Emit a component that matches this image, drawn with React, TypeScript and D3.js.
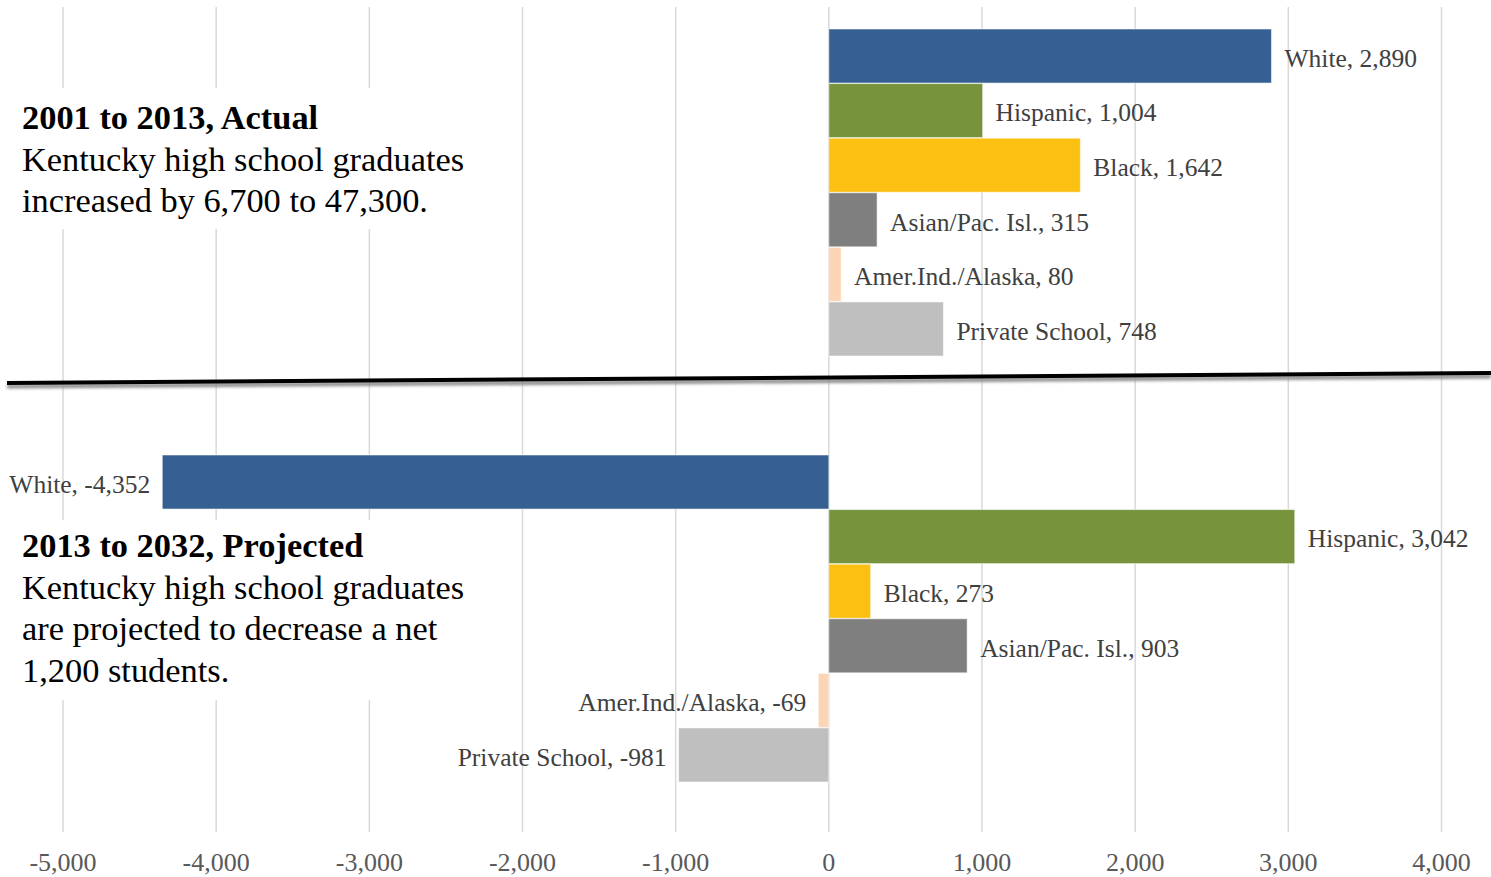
import React from "react";
import * as d3 from "d3";

// Change in Kentucky high school graduates by race/ethnicity
const categories = ["White", "Hispanic", "Black", "Asian/Pac. Isl.", "Amer.Ind./Alaska", "Private School"];
const actual2001to2013 = [2890, 1004, 1642, 315, 80, 748];
const projected2013to2032 = [-4352, 3042, 273, 903, -69, -981];
const barColors = ["#366092", "#77933C", "#FBC012", "#7F7F7F", "#FBD5B5", "#BFBFBF"];
const tickValues = [-5000, -4000, -3000, -2000, -1000, 0, 1000, 2000, 3000, 4000];

const topNote = {
  title: "2001 to 2013, Actual",
  lines: ["Kentucky high school graduates", "increased by 6,700 to 47,300."],
};
const bottomNote = {
  title: "2013 to 2032, Projected",
  lines: ["Kentucky high school graduates", "are projected to decrease a net", "1,200 students."],
};

const W = 1491;
const H = 877;
const FONT = "'Liberation Serif', 'Times New Roman', serif";

const locale = d3.formatLocale({ decimal: ".", thousands: ",", grouping: [3], currency: ["$", ""], minus: "-" });
const fmt = locale.format(",");

export default function App() {
  const x = d3.scaleLinear().domain([-5000, 4000]).range([63, 1441.5]);
  const yTop = d3.scaleBand<string>().domain(categories).range([29, 356]).paddingInner(0.01);
  const yBottom = d3.scaleBand<string>().domain(categories).range([455, 782]).paddingInner(0.01);

  const panel = (values: number[], y: d3.ScaleBand<string>, key: string) =>
    categories.map((c, i) => {
      const v = values[i];
      const x0 = x(Math.min(0, v));
      const x1 = x(Math.max(0, v));
      const yy = y(c)!;
      const pos = v >= 0;
      return (
        <g key={key + i}>
          <rect
            x={x0}
            y={yy}
            width={x1 - x0}
            height={y.bandwidth()}
            fill={barColors[i]}
            stroke="#ffffff"
            strokeOpacity={0.55}
            strokeWidth={1}
          />
          <text
            x={pos ? x1 + 13 : x0 - 12}
            y={yy + y.bandwidth() / 2}
            dy="0.42em"
            textAnchor={pos ? "start" : "end"}
            fontSize={25.5}
            fill="#404040"
            fontFamily={FONT}
          >
            {`${c}, ${fmt(v)}`}
          </text>
        </g>
      );
    });

  const note = (n: { title: string; lines: string[] }, baseline: number) => (
    <g fontFamily={FONT} fontSize={34.4} fill="#000">
      <text x={22} y={baseline} fontWeight="bold">
        {n.title}
      </text>
      {n.lines.map((l, i) => (
        <text key={i} x={22} y={baseline + 41.5 * (i + 1)}>
          {l}
        </text>
      ))}
    </g>
  );

  return (
    <div style={{ position: "absolute", left: 0, top: 0, width: W, height: H, background: "#fff" }}>
      <svg width={W} height={H} viewBox={`0 0 ${W} ${H}`} style={{ display: "block" }}>
        <defs>
          <filter id="divShadow" x="-5%" y="-200%" width="110%" height="500%">
            <feGaussianBlur stdDeviation="1.6" />
          </filter>
        </defs>
        <rect width={W} height={H} fill="#fff" />

        {/* vertical gridlines */}
        {tickValues.map((t) => (
          <line key={t} x1={x(t)} x2={x(t)} y1={7} y2={832} stroke="#D9D9D9" strokeWidth={1.5} />
        ))}

        {/* white panels behind the notes */}
        <rect x={0} y={88} width={480} height={141} fill="#fff" />
        <rect x={0} y={520} width={480} height={180} fill="#fff" />

        {panel(actual2001to2013, yTop, "a")}
        {panel(projected2013to2032, yBottom, "p")}

        {/* divider between actual and projected */}
        <line x1={7} y1={386.5} x2={1491} y2={376.5} stroke="#8c8c8c" strokeWidth={4} filter="url(#divShadow)" />
        <line x1={7} y1={383} x2={1491} y2={373} stroke="#000" strokeWidth={4} />

        {note(topNote, 129)}
        {note(bottomNote, 557)}

        {/* x axis tick labels */}
        {tickValues.map((t) => (
          <text
            key={"t" + t}
            x={x(t)}
            y={871}
            textAnchor="middle"
            fontSize={26}
            fill="#595959"
            fontFamily={FONT}
          >
            {fmt(t)}
          </text>
        ))}
      </svg>
    </div>
  );
}
